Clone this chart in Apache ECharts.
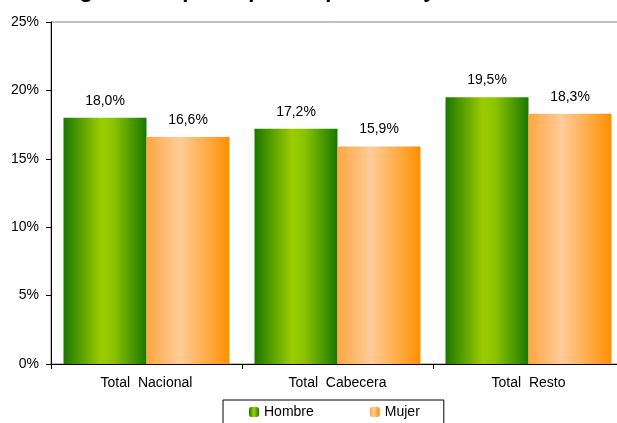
<!DOCTYPE html>
<html>
<head>
    <meta charset="utf-8">
    <title>Hombre / Mujer</title>
    <script src="https://cdn.jsdelivr.net/npm/echarts@6/dist/echarts.min.js"></script>
    <style>
        html, body { margin: 0; padding: 0; background: #fff; }
    </style>
</head>
<body>
<div id="main" style="width: 617px;height:423px;"></div>
<script type="text/javascript">
    // datos
    var categorias = ['Total  Nacional', 'Total  Cabecera', 'Total  Resto'];
    var hombre = [18.0, 17.2, 19.5];
    var mujer = [16.6, 15.9, 18.3];
    var ticksY = [0, 5, 10, 15, 20, 25];

    var myChart = echarts.init(document.getElementById('main'));

    function fmt(v) {
        return v.toFixed(1).replace('.', ',') + '%';
    }

    var verde = new echarts.graphic.LinearGradient(0, 0, 1, 0, [
        {offset: 0, color: '#1a7800'},
        {offset: 0.45, color: '#9ccc00'},
        {offset: 0.6, color: '#8cc400'},
        {offset: 1, color: '#1a7800'}
    ]);
    var naranja = new echarts.graphic.LinearGradient(0, 0, 1, 0, [
        {offset: 0, color: '#ffa640'},
        {offset: 0.4, color: '#ffcc99'},
        {offset: 1, color: '#ff9000'}
    ]);

    var option = {
        animation: false,
        textStyle: {fontFamily: 'Liberation Sans, Arial, sans-serif', color: '#000'},
        title: {
            text: 'Tasa global de participación por sexo y zona',
            left: 20,
            top: -25,
            textStyle: {fontSize: 22, fontWeight: 'bold', color: '#000'}
        },
        grid: {
            left: 51, top: 22, bottom: 59, width: 573,
            outerBoundsMode: 'none',
            show: true, borderColor: '#808080', borderWidth: 1
        },
        legend: {
            data: ['Hombre', 'Mujer'],
            left: 223, top: 400,
            padding: [5, 24, 12, 26],
            itemGap: 56,
            itemWidth: 10, itemHeight: 10,
            borderColor: '#000', borderWidth: 1,
            backgroundColor: '#fff',
            textStyle: {fontSize: 14, color: '#000'}
        },
        xAxis: {
            type: 'category',
            data: categorias,
            axisLine: {lineStyle: {color: '#000'}},
            axisTick: {show: true, length: 5, lineStyle: {color: '#000'}},
            axisLabel: {fontSize: 14, color: '#000', margin: 12}
        },
        yAxis: {
            type: 'value',
            min: ticksY[0], max: ticksY[ticksY.length - 1], interval: 5,
            axisLine: {show: true, lineStyle: {color: '#000'}},
            axisTick: {show: true, length: 5, lineStyle: {color: '#000'}},
            splitLine: {show: false},
            axisLabel: {fontSize: 14, color: '#000', margin: 12, formatter: '{value}%'}
        },
        series: [{
            name: 'Hombre',
            type: 'bar',
            data: hombre,
            barWidth: 83,
            barGap: '0%',
            itemStyle: {color: verde},
            label: {show: true, position: 'top', distance: 10, fontSize: 14, color: '#000',
                formatter: function (p) { return fmt(p.value); }}
        }, {
            name: 'Mujer',
            type: 'bar',
            data: mujer,
            barWidth: 83,
            itemStyle: {color: naranja},
            label: {show: true, position: 'top', distance: 10, fontSize: 14, color: '#000',
                formatter: function (p) { return fmt(p.value); }}
        }]
    };

    myChart.setOption(option);
</script>
</body>
</html>
